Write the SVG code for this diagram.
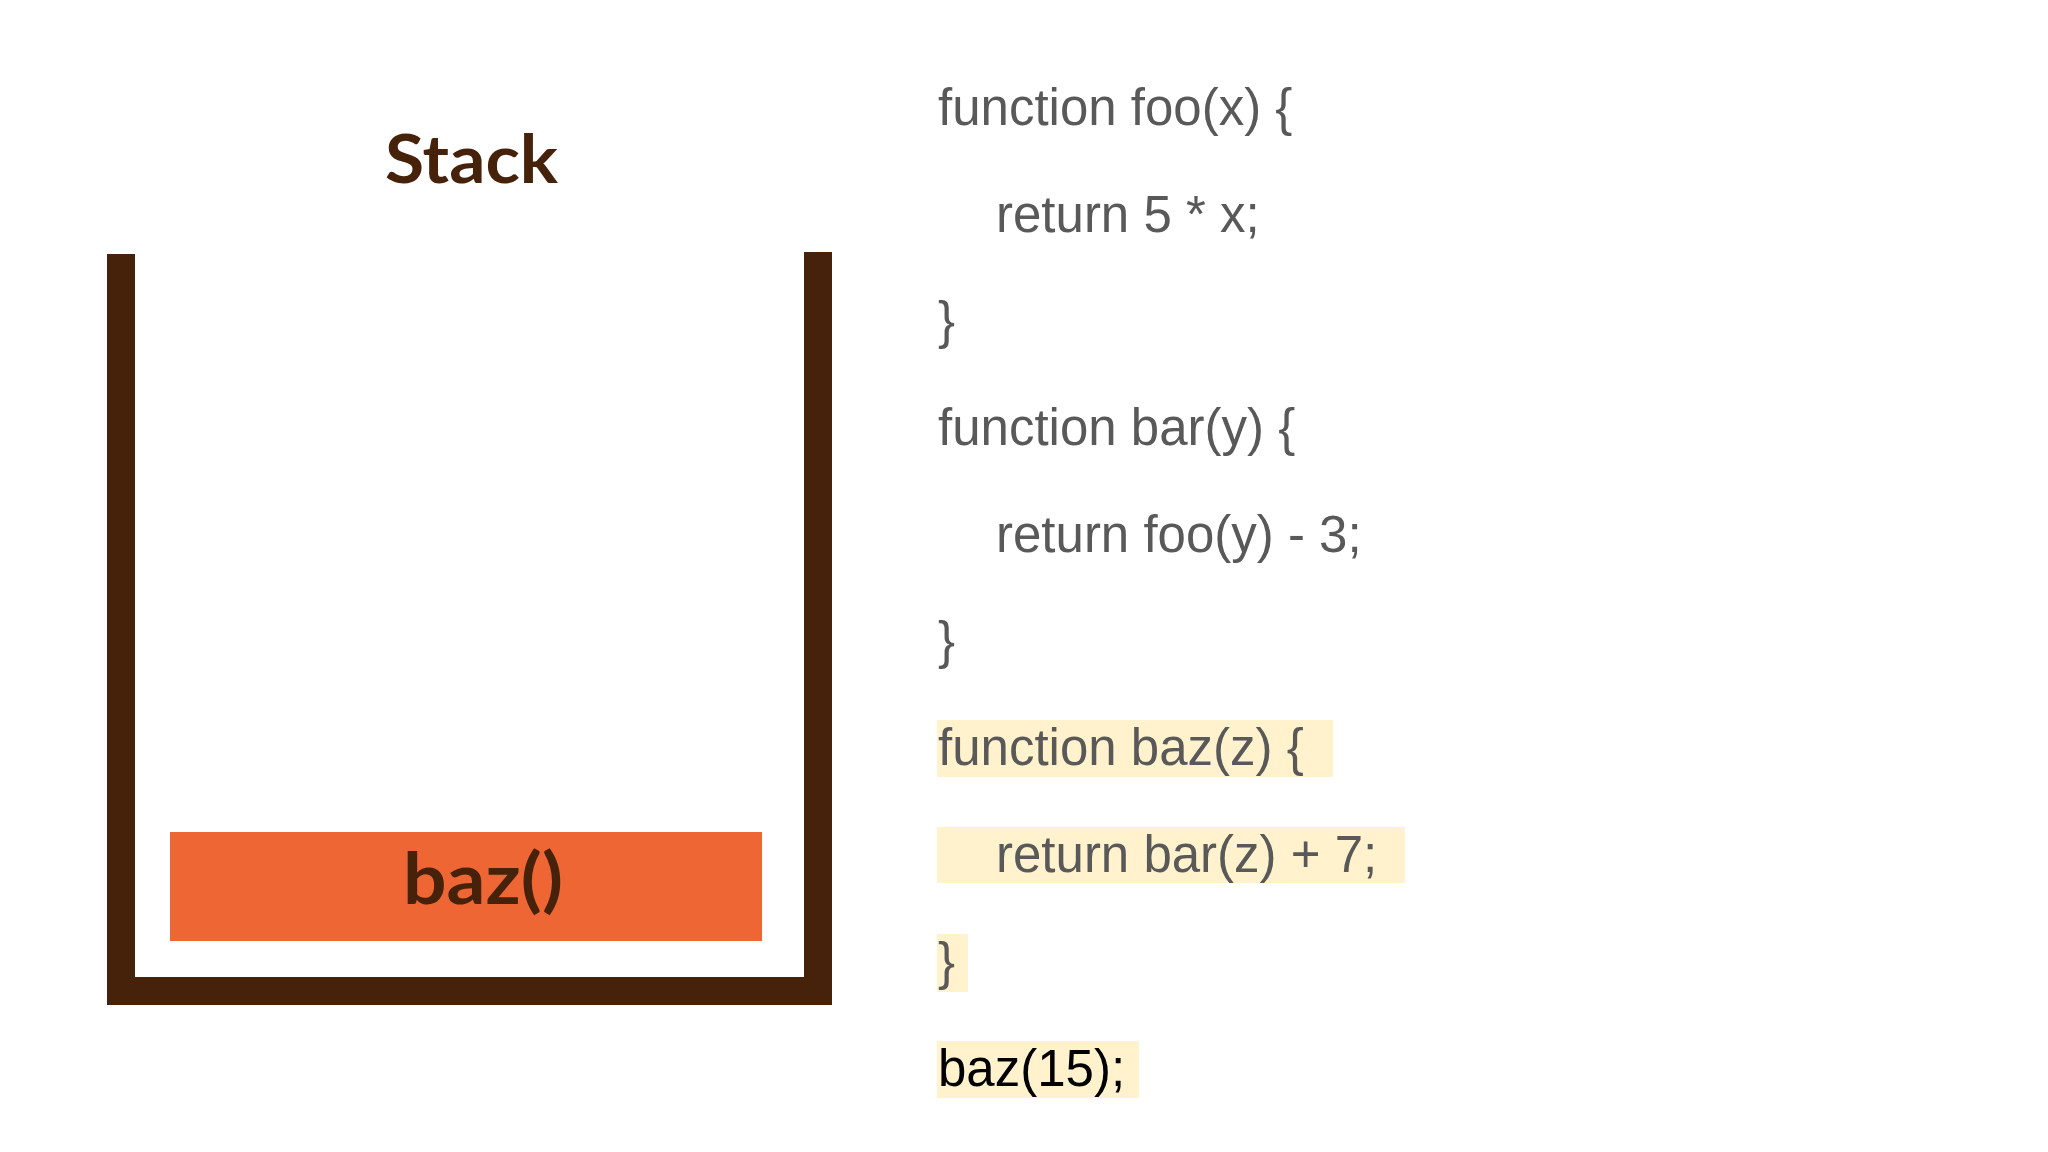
<svg xmlns="http://www.w3.org/2000/svg" width="2048" height="1152" viewBox="0 0 2048 1152">
<style>
.wall{fill:#46220a}
.code{font-family:"Liberation Sans",Arial,sans-serif;font-size:51px;fill:#595959}
.hl{fill:#fff2cc}
.title{font-family:Lato,"Open Sans",sans-serif;font-weight:bold;fill:#46220a}
</style>
<rect width="2048" height="1152" fill="#ffffff"/>
<g id="stack">
<text class="title" x="385" y="183" font-size="66" textLength="173" lengthAdjust="spacingAndGlyphs">Stack</text>
<rect class="wall" x="107" y="254" width="28" height="751"/>
<rect class="wall" x="804" y="252" width="28" height="753"/>
<rect class="wall" x="107" y="977" width="725" height="28"/>
</g>
<g id="frame-baz">
<rect x="170" y="832" width="592" height="109" fill="#ee6633"/>
<text class="title" x="403" y="904" font-size="70" textLength="160" lengthAdjust="spacingAndGlyphs">baz()</text>
</g>
<g id="code">
<rect class="hl" x="937" y="720" width="396" height="57"/>
<rect class="hl" x="937" y="827" width="468" height="56"/>
<rect class="hl" x="937" y="934" width="31" height="58"/>
<rect class="hl" x="937" y="1041" width="202" height="57"/>
<text class="code" x="938" y="125">function foo(x) {</text>
<text class="code" x="996" y="232">return 5 * x;</text>
<text class="code" x="938" y="338">}</text>
<text class="code" x="938" y="445">function bar(y) {</text>
<text class="code" x="996" y="552">return foo(y) - 3;</text>
<text class="code" x="938" y="658">}</text>
<text class="code" x="938" y="765">function baz(z) {</text>
<text class="code" x="996" y="872">return bar(z) + 7;</text>
<text class="code" x="938" y="979">}</text>
<text class="code" x="938" y="1086" style="fill:#000">baz(15);</text>
</g>
</svg>
